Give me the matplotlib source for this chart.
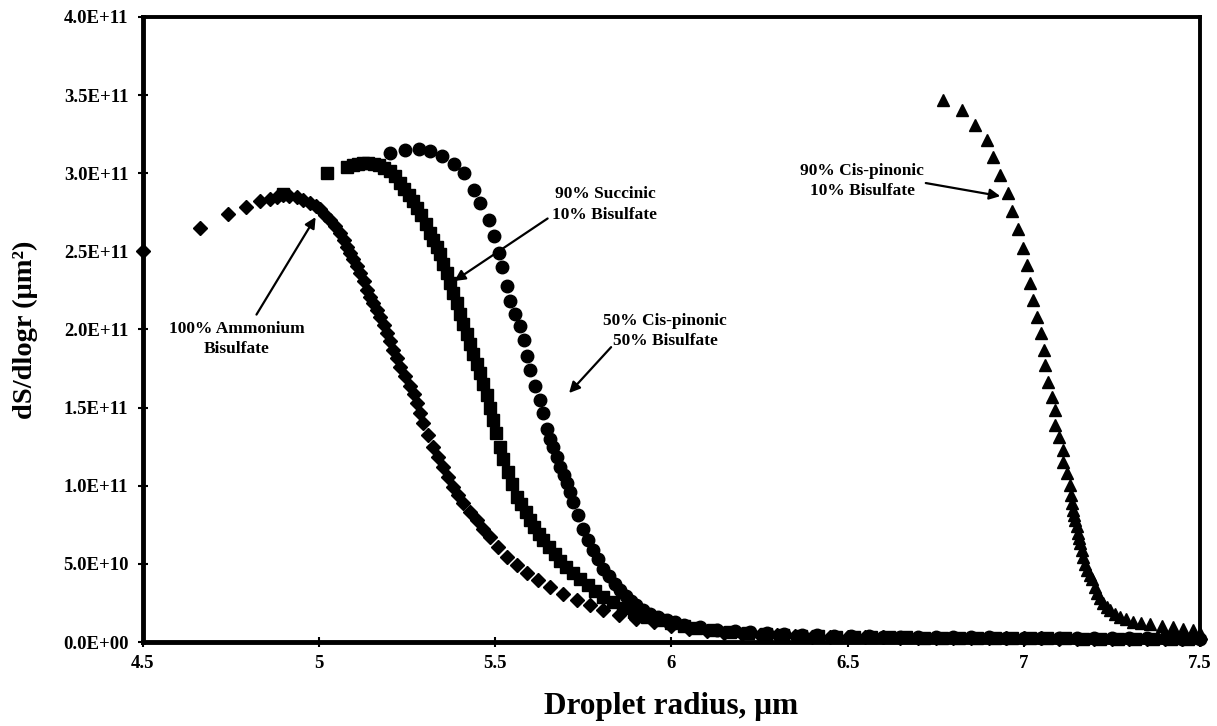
import numpy as np
import matplotlib
matplotlib.use("Agg")
import matplotlib.pyplot as plt
from matplotlib.ticker import FuncFormatter

plt.rcParams['font.family'] = ['Liberation Serif', 'DejaVu Serif']
plt.rcParams['font.weight'] = 'bold'

# dS/dlogr values are stored in units of 1E+11 um^2
# 100% Ammonium Bisulfate (diamonds)
amm_r = [4.50, 4.662, 4.741, 4.792, 4.832, 4.860, 4.880, 4.897, 4.915, 4.937,
         4.955, 4.974, 4.990, 5.002, 5.017, 5.031, 5.045, 5.059, 5.070, 5.079,
         5.088, 5.096, 5.106, 5.116, 5.126, 5.136, 5.145, 5.153, 5.163, 5.173,
         5.183, 5.193, 5.202, 5.210, 5.220, 5.229, 5.243, 5.258, 5.268, 5.278,
         5.287, 5.295, 5.309, 5.323, 5.338, 5.352, 5.366, 5.380, 5.394, 5.408,
         5.428, 5.448, 5.466, 5.485, 5.509, 5.533, 5.561, 5.590, 5.622, 5.655,
         5.693, 5.732, 5.769, 5.806, 5.850, 5.900, 5.950, 6.000, 6.050, 6.100,
         6.150, 6.200, 6.250, 6.300, 6.350, 6.400, 6.450, 6.500, 6.550, 6.600,
         6.650, 6.700, 6.750, 6.800, 6.850, 6.900, 6.950, 7.000, 7.050, 7.100,
         7.150, 7.200, 7.250, 7.300, 7.350, 7.400, 7.450, 7.500]
amm_s = [2.50, 2.65, 2.74, 2.785, 2.82, 2.835, 2.85, 2.86, 2.855, 2.85,
         2.83, 2.81, 2.79, 2.77, 2.735, 2.70, 2.66, 2.62, 2.575, 2.53,
         2.49, 2.45, 2.405, 2.36, 2.31, 2.255, 2.21, 2.17, 2.125, 2.08,
         2.03, 1.98, 1.925, 1.87, 1.815, 1.76, 1.70, 1.64, 1.585, 1.53,
         1.465, 1.40, 1.325, 1.25, 1.185, 1.12, 1.055, 0.99, 0.94, 0.89,
         0.835, 0.78, 0.725, 0.67, 0.61, 0.545, 0.49, 0.44, 0.395, 0.35,
         0.31, 0.27, 0.235, 0.205, 0.175, 0.15, 0.125, 0.10, 0.085, 0.07,
         0.06, 0.052, 0.046, 0.042, 0.038, 0.035, 0.033, 0.031, 0.03, 0.029,
         0.028, 0.027, 0.026, 0.025, 0.025, 0.024, 0.024, 0.023, 0.023, 0.022,
         0.022, 0.021, 0.021, 0.02, 0.02, 0.02, 0.02, 0.02]

# 90% Succinic / 10% Bisulfate (squares)
suc_r = [4.897, 5.022, 5.079, 5.095, 5.110, 5.125, 5.140, 5.155, 5.170, 5.185,
         5.200, 5.215, 5.229, 5.241, 5.254, 5.266, 5.278, 5.290, 5.303, 5.315,
         5.324, 5.334, 5.343, 5.352, 5.362, 5.371, 5.381, 5.390, 5.400, 5.409,
         5.419, 5.428, 5.438, 5.447, 5.457, 5.466, 5.476, 5.484, 5.493, 5.502,
         5.512, 5.522, 5.535, 5.548, 5.562, 5.574, 5.586, 5.598, 5.610, 5.623,
         5.635, 5.651, 5.668, 5.684, 5.702, 5.721, 5.740, 5.762, 5.784, 5.806,
         5.834, 5.862, 5.895, 5.930, 5.965, 6.000, 6.035, 6.070, 6.117, 6.167,
         6.217, 6.267, 6.317, 6.367, 6.417, 6.467, 6.517, 6.567, 6.617, 6.667,
         6.717, 6.767, 6.817, 6.867, 6.917, 6.967, 7.017, 7.067, 7.117, 7.167,
         7.217, 7.267, 7.317, 7.367, 7.417, 7.467]
suc_s = [2.87, 3.00, 3.04, 3.05, 3.06, 3.065, 3.065, 3.06, 3.05, 3.035,
         3.015, 2.985, 2.94, 2.90, 2.86, 2.82, 2.78, 2.73, 2.675, 2.62,
         2.575, 2.53, 2.48, 2.42, 2.36, 2.30, 2.235, 2.17, 2.10, 2.035,
         1.97, 1.91, 1.845, 1.78, 1.72, 1.65, 1.58, 1.50, 1.42, 1.335,
         1.25, 1.17, 1.09, 1.01, 0.93, 0.88, 0.83, 0.78, 0.735, 0.69,
         0.65, 0.605, 0.56, 0.52, 0.48, 0.44, 0.40, 0.365, 0.325, 0.29,
         0.255, 0.22, 0.19, 0.16, 0.14, 0.12, 0.105, 0.09, 0.075, 0.064,
         0.056, 0.05, 0.045, 0.041, 0.038, 0.035, 0.033, 0.031, 0.03, 0.029,
         0.028, 0.027, 0.026, 0.025, 0.025, 0.024, 0.024, 0.023, 0.023, 0.022,
         0.022, 0.021, 0.021, 0.02, 0.02, 0.02]

# 50% Cis-pinonic / 50% Bisulfate (circles)
cis50_r = [5.200, 5.245, 5.284, 5.315, 5.349, 5.383, 5.411, 5.440, 5.457, 5.482,
           5.497, 5.511, 5.520, 5.534, 5.542, 5.556, 5.570, 5.582, 5.590, 5.599,
           5.613, 5.627, 5.635, 5.647, 5.655, 5.664, 5.674, 5.684, 5.694, 5.704,
           5.712, 5.721, 5.735, 5.749, 5.763, 5.777, 5.792, 5.807, 5.823, 5.840,
           5.855, 5.870, 5.885, 5.900, 5.920, 5.940, 5.963, 5.987, 6.010, 6.035,
           6.081, 6.130, 6.180, 6.223, 6.270, 6.320, 6.370, 6.413, 6.460, 6.510,
           6.560, 6.600, 6.650, 6.700, 6.750, 6.800, 6.850, 6.900, 6.950, 7.000,
           7.050, 7.100, 7.150, 7.200, 7.250, 7.300, 7.350, 7.400, 7.450, 7.500]
cis50_s = [3.13, 3.15, 3.155, 3.14, 3.11, 3.06, 3.00, 2.89, 2.81, 2.70,
           2.60, 2.49, 2.40, 2.28, 2.18, 2.10, 2.02, 1.935, 1.83, 1.74,
           1.635, 1.55, 1.465, 1.36, 1.30, 1.25, 1.185, 1.12, 1.07, 1.02,
           0.96, 0.895, 0.81, 0.72, 0.655, 0.59, 0.53, 0.47, 0.42, 0.37,
           0.33, 0.295, 0.265, 0.235, 0.205, 0.18, 0.16, 0.14, 0.125, 0.11,
           0.095, 0.08, 0.07, 0.062, 0.055, 0.05, 0.046, 0.043, 0.04, 0.038,
           0.036, 0.035, 0.034, 0.033, 0.032, 0.031, 0.03, 0.029, 0.028, 0.027,
           0.026, 0.026, 0.025, 0.025, 0.024, 0.024, 0.023, 0.023, 0.022, 0.022]

# 90% Cis-pinonic / 10% Bisulfate (triangles)
cis90_r = [6.771, 6.825, 6.862, 6.896, 6.913, 6.933, 6.955, 6.967, 6.984, 6.998,
           7.009, 7.018, 7.026, 7.038, 7.049, 7.058, 7.060, 7.069, 7.080, 7.089,
           7.089, 7.100, 7.111, 7.111, 7.123, 7.131, 7.134, 7.137, 7.140, 7.143,
           7.145, 7.150, 7.154, 7.157, 7.160, 7.164, 7.168, 7.174, 7.180, 7.187,
           7.194, 7.201, 7.208, 7.216, 7.225, 7.235, 7.245, 7.259, 7.273, 7.291,
           7.310, 7.334, 7.358, 7.391, 7.424, 7.452, 7.480, 7.500]
cis90_s = [3.47, 3.405, 3.31, 3.215, 3.105, 2.99, 2.875, 2.755, 2.64, 2.52,
           2.415, 2.30, 2.19, 2.08, 1.98, 1.87, 1.775, 1.665, 1.57, 1.485,
           1.39, 1.31, 1.23, 1.15, 1.08, 1.005, 0.94, 0.89, 0.845, 0.81,
           0.78, 0.74, 0.70, 0.665, 0.635, 0.59, 0.545, 0.50, 0.46, 0.43,
           0.40, 0.355, 0.315, 0.28, 0.25, 0.225, 0.205, 0.18, 0.16, 0.145,
           0.13, 0.12, 0.115, 0.105, 0.095, 0.085, 0.075, 0.06]

x_ticks = [4.5, 5, 5.5, 6, 6.5, 7, 7.5]
x_tick_labels = ['4.5', '5', '5.5', '6', '6.5', '7', '7.5']
y_ticks = [0, 0.5e11, 1.0e11, 1.5e11, 2.0e11, 2.5e11, 3.0e11, 3.5e11, 4.0e11]

fig = plt.figure(figsize=(12.17, 7.26), dpi=100)
ax = fig.add_axes([0.1175, 0.1157, 0.8685, 0.861])

# draw each series (values scaled from 1E+11 units)
ax.plot(amm_r, np.array(amm_s) * 1e11, 'D', color='black', ms=7.5, clip_on=False)
ax.plot(suc_r, np.array(suc_s) * 1e11, 's', color='black', ms=9, clip_on=False)
ax.plot(cis50_r, np.array(cis50_s) * 1e11, 'o', color='black', ms=9, clip_on=False)
ax.plot(cis90_r, np.array(cis90_s) * 1e11, '^', color='black', ms=9, clip_on=False)

ax.set_xlim(4.5, 7.5)
ax.set_ylim(0, 4e11)
ax.set_xticks(x_ticks)
ax.set_xticklabels(x_tick_labels)
ax.set_yticks(y_ticks)
ax.yaxis.set_major_formatter(FuncFormatter(lambda v, p: '%.1E' % v))

for side in ['left', 'bottom']:
    ax.spines[side].set_linewidth(3.5)
for side in ['top', 'right']:
    ax.spines[side].set_linewidth(2.8)
ax.tick_params(direction='inout', length=7, width=1.5, labelsize=13.5)
ax.tick_params(axis='y', pad=7)
ax.tick_params(axis='x', pad=6)
for lbl in ax.get_xticklabels() + ax.get_yticklabels():
    lbl.set_fontweight('bold')

ax.set_xlabel('Droplet radius, \u03bcm', fontsize=22.5, fontweight='bold', labelpad=14)
ax.set_ylabel('dS/dlogr (\u03bcm\u00b2)', fontsize=20.5, fontweight='bold', labelpad=18)

# annotations
arrow = dict(arrowstyle='-|>', color='black', lw=1.6, mutation_scale=16)
txt = dict(ha='center', va='center', fontsize=12.5, fontweight='bold', linespacing=1.35)

ax.annotate('', xy=(4.994, 2.734e11), xytext=(4.818, 2.08e11), arrowprops=arrow)
ax.text(4.767, 1.94e11, '100% Ammonium\nBisulfate', **txt)

ax.annotate('', xy=(5.377, 2.30e11), xytext=(5.655, 2.72e11), arrowprops=arrow)
ax.text(5.811, 2.80e11, '90% Succinic\n10% Bisulfate', **txt)

ax.annotate('', xy=(5.704, 1.58e11), xytext=(5.834, 1.90e11), arrowprops=arrow)
ax.text(5.982, 1.99e11, '50% Cis-pinonic\n50% Bisulfate', **txt)

ax.annotate('', xy=(6.941, 2.85e11), xytext=(6.714, 2.94e11), arrowprops=arrow)
ax.text(6.541, 2.95e11, '90% Cis-pinonic\n10% Bisulfate', **txt)

fig.savefig('out.png', dpi=100)
